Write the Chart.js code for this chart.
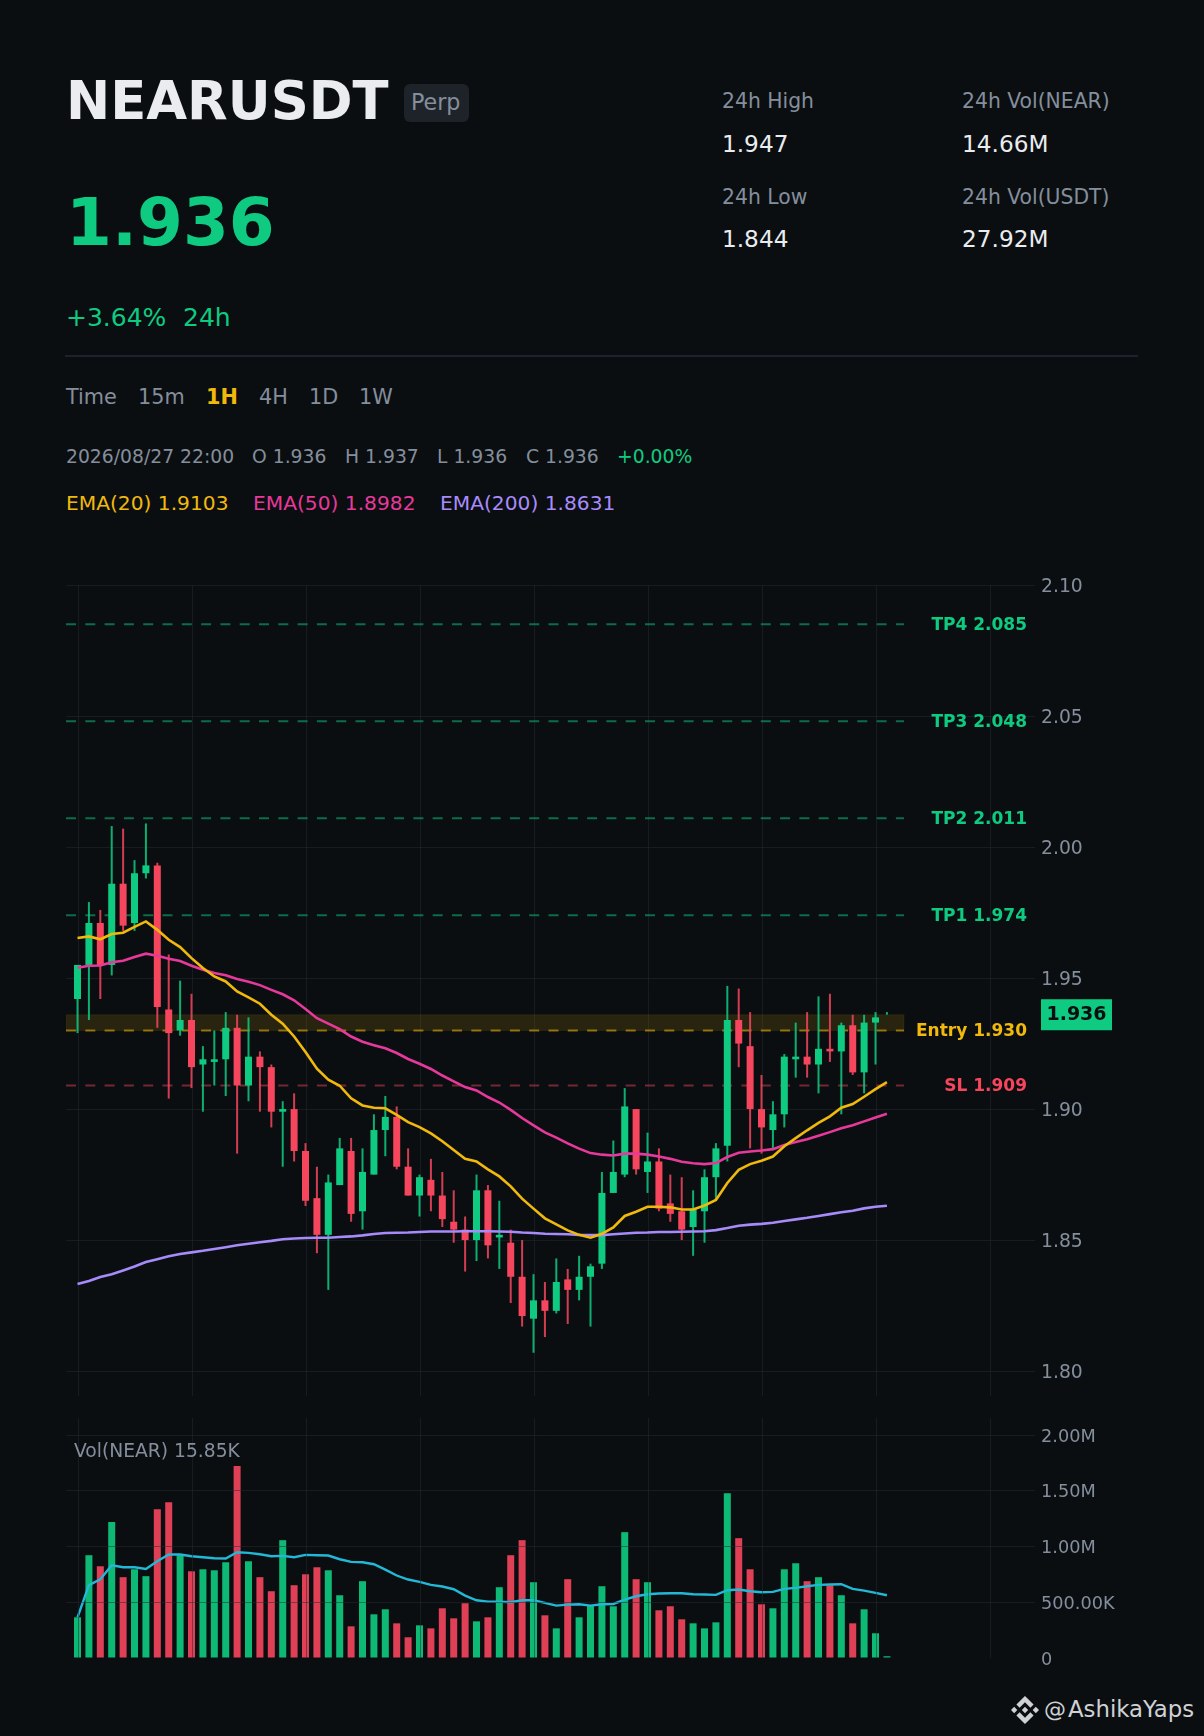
<!DOCTYPE html>
<html lang="en">
<head>
    <meta charset="UTF-8">
    <title>NEARUSDT Perp</title>
    <script src="https://cdn.jsdelivr.net/npm/chart.js"></script>
    <style>
        html, body { margin: 0; padding: 0; background: #0b0e11; }
        body { position: relative; width: 1204px; height: 1736px; overflow: hidden; font-family: 'DejaVu Sans', sans-serif; }
        .t { position: absolute; white-space: nowrap; transform: translateY(-50%); line-height: 1.2; color: #848e9c; }
        .stat-label { font-size: 20.35px; }
        .stat-value { font-size: 23.2px; color: #eaecef; }
        .tf { font-size: 20.8px; top: 397px; }
        .ohlc { font-size: 18.75px; top: 457px; }
        .ema { font-size: 20.2px; top: 503px; }
        #badge { position: absolute; left: 404px; top: 84px; width: 65px; height: 38px; background: #1e2329; border-radius: 6px; }
        #divider { position: absolute; left: 65px; top: 355px; width: 1073px; height: 2px; background: #1e2230; }
        canvas { position: absolute; display: block; }
        #priceChart { left: 66px; top: 565px; }
        #volChart { left: 66px; top: 1398px; }
        #logo { position: absolute; left: 1011px; top: 1696px; width: 28px; height: 28px; }
    </style>
</head>
<body>
    <div class="t" style="left:66px;top:101px;font-size:52.8px;font-weight:bold;color:#eaecef;">NEARUSDT</div>
    <div id="badge"></div>
    <div class="t" style="left:411px;top:102px;font-size:22.2px;">Perp</div>

    <div class="t" style="left:66px;top:223px;font-size:66px;font-weight:bold;color:#0ecb81;">1.936</div>
    <div class="t" style="left:66px;top:317.5px;font-size:25px;color:#0ecb81;">+3.64%</div>
    <div class="t" style="left:183px;top:317.5px;font-size:25px;color:#0ecb81;">24h</div>

    <div class="t stat-label" style="left:722px;top:101px;">24h High</div>
    <div class="t stat-value" style="left:722px;top:144px;">1.947</div>
    <div class="t stat-label" style="left:722px;top:197px;">24h Low</div>
    <div class="t stat-value" style="left:722px;top:239px;">1.844</div>
    <div class="t stat-label" style="left:962px;top:101px;">24h Vol(NEAR)</div>
    <div class="t stat-value" style="left:962px;top:144px;">14.66M</div>
    <div class="t stat-label" style="left:962px;top:197px;">24h Vol(USDT)</div>
    <div class="t stat-value" style="left:962px;top:239px;">27.92M</div>

    <div id="divider"></div>

    <div class="t tf" style="left:66px;">Time</div>
    <div class="t tf" style="left:138px;">15m</div>
    <div class="t tf" style="left:206px;font-weight:bold;color:#f0b90b;">1H</div>
    <div class="t tf" style="left:259px;">4H</div>
    <div class="t tf" style="left:309px;">1D</div>
    <div class="t tf" style="left:359px;">1W</div>

    <div class="t ohlc" style="left:66px;">2026/08/27 22:00</div>
    <div class="t ohlc" style="left:252px;">O 1.936</div>
    <div class="t ohlc" style="left:345px;">H 1.937</div>
    <div class="t ohlc" style="left:437px;">L 1.936</div>
    <div class="t ohlc" style="left:526px;">C 1.936</div>
    <div class="t ohlc" style="left:617px;color:#0ecb81;">+0.00%</div>

    <div class="t ema" style="left:66px;color:#f0b90b;">EMA(20) 1.9103</div>
    <div class="t ema" style="left:253px;color:#e6399b;">EMA(50) 1.8982</div>
    <div class="t ema" style="left:440px;color:#a78bfa;">EMA(200) 1.8631</div>

    <canvas id="priceChart" width="1138" height="851"></canvas>
    <canvas id="volChart" width="1138" height="280"></canvas>

    <div class="t" style="left:74px;top:1451px;font-size:18.7px;">Vol(NEAR) 15.85K</div>

    <svg id="logo" viewBox="0 0 24 24"><path fill="#cfd1d4" d="M16.624 13.9202l2.7175 2.7154-7.353 7.353-7.353-7.352 2.7175-2.7164 4.6355 4.6595 4.6356-4.6595zm4.6366-4.6366L24 12l-2.7154 2.7164L18.5682 12l2.6924-2.7164zm-9.272.001l2.7163 2.6914-2.7164 2.7174v-.001L9.2721 12l2.7164-2.7154zm-9.2722-.001L5.4088 12l-2.6914 2.6924L0 12l2.7164-2.7164zM11.9885.0115l7.353 7.329-2.7174 2.7154-4.6356-4.6356-4.6355 4.6595-2.7174-2.7154 7.353-7.353z"/></svg>
    <div class="t" style="left:1044px;top:1710px;font-size:22px;color:#cfd1d4;">@</div>
    <div class="t" style="left:1068px;top:1710px;font-size:22.8px;color:#cfd1d4;">AshikaYaps</div>

    <script>
        // candles
        const opens = [1.942,1.955,1.971,1.955,1.986,1.971,1.990,1.993,1.938,1.930,1.934,1.917,1.918,1.919,1.931,1.909,1.920,1.916,1.899,1.900,1.884,1.866,1.852,1.871,1.884,1.861,1.875,1.892,1.897,1.878,1.867,1.873,1.867,1.857,1.854,1.850,1.869,1.851,1.849,1.836,1.820,1.827,1.823,1.835,1.831,1.836,1.841,1.868,1.875,1.900,1.876,1.880,1.864,1.861,1.855,1.861,1.874,1.886,1.934,1.924,1.900,1.892,1.898,1.919,1.920,1.917,1.923,1.922,1.932,1.914,1.933,1.936];
        const highs = [1.955,1.979,1.976,2.008,2.007,1.995,2.009,1.994,1.959,1.949,1.944,1.924,1.930,1.937,1.936,1.935,1.922,1.917,1.903,1.906,1.887,1.878,1.875,1.889,1.889,1.885,1.898,1.905,1.901,1.885,1.875,1.881,1.876,1.869,1.859,1.875,1.871,1.865,1.854,1.850,1.837,1.834,1.843,1.839,1.844,1.841,1.876,1.888,1.908,1.900,1.891,1.885,1.875,1.874,1.869,1.877,1.887,1.947,1.946,1.937,1.913,1.903,1.921,1.933,1.937,1.943,1.944,1.933,1.936,1.936,1.937,1.937];
        const lows = [1.929,1.934,1.942,1.951,1.968,1.968,1.988,1.931,1.904,1.928,1.908,1.899,1.909,1.905,1.883,1.903,1.899,1.893,1.878,1.880,1.863,1.845,1.831,1.871,1.857,1.854,1.875,1.882,1.877,1.867,1.859,1.861,1.855,1.849,1.838,1.842,1.843,1.839,1.826,1.817,1.807,1.813,1.822,1.818,1.827,1.817,1.839,1.868,1.874,1.875,1.868,1.861,1.857,1.850,1.844,1.849,1.865,1.880,1.916,1.885,1.883,1.885,1.893,1.912,1.912,1.906,1.918,1.898,1.913,1.906,1.917,1.936];
        const closes = [1.955,1.971,1.955,1.986,1.970,1.990,1.993,1.939,1.929,1.934,1.916,1.919,1.919,1.931,1.909,1.920,1.916,1.899,1.900,1.884,1.865,1.852,1.872,1.885,1.860,1.876,1.892,1.897,1.878,1.867,1.874,1.867,1.858,1.854,1.850,1.869,1.848,1.852,1.836,1.821,1.827,1.823,1.834,1.831,1.836,1.840,1.868,1.876,1.901,1.877,1.880,1.862,1.860,1.854,1.862,1.874,1.885,1.934,1.925,1.900,1.893,1.898,1.920,1.920,1.917,1.923,1.922,1.932,1.914,1.933,1.935,1.936];

        const ema20 = [1.9653,1.9659,1.9648,1.9668,1.9673,1.9695,1.9716,1.9684,1.9646,1.9618,1.9576,1.9538,1.9506,1.9487,1.9449,1.9426,1.9402,1.9360,1.9326,1.9277,1.9218,1.9154,1.9112,1.9089,1.9041,1.9014,1.9005,1.9003,1.8978,1.8950,1.8931,1.8907,1.8877,1.8844,1.8810,1.8800,1.8770,1.8743,1.8705,1.8658,1.8620,1.8583,1.8560,1.8537,1.8520,1.8509,1.8524,1.8548,1.8592,1.8608,1.8627,1.8627,1.8625,1.8617,1.8617,1.8632,1.8653,1.8718,1.8768,1.8790,1.8803,1.8819,1.8858,1.8889,1.8919,1.8947,1.8972,1.9005,1.9019,1.9047,1.9076,1.9103];
        const ema50 = [1.9539,1.9547,1.9548,1.9560,1.9566,1.9580,1.9593,1.9585,1.9574,1.9565,1.9547,1.9532,1.9519,1.9511,1.9496,1.9486,1.9473,1.9455,1.9438,1.9415,1.9382,1.9347,1.9326,1.9305,1.9277,1.9257,1.9244,1.9232,1.9214,1.9191,1.9173,1.9153,1.9128,1.9106,1.9084,1.9071,1.9046,1.9025,1.8997,1.8966,1.8938,1.8911,1.8891,1.8869,1.8849,1.8832,1.8826,1.8823,1.8830,1.8830,1.8826,1.8819,1.8810,1.8799,1.8793,1.8790,1.8794,1.8817,1.8833,1.8838,1.8842,1.8847,1.8863,1.8874,1.8885,1.8898,1.8912,1.8927,1.8938,1.8953,1.8968,1.8982];
        const ema200 = [1.8332,1.8344,1.8359,1.8370,1.8384,1.8399,1.8416,1.8427,1.8438,1.8447,1.8453,1.8459,1.8466,1.8473,1.8480,1.8486,1.8492,1.8497,1.8503,1.8506,1.8508,1.8509,1.8509,1.8512,1.8514,1.8518,1.8523,1.8527,1.8528,1.8529,1.8531,1.8533,1.8533,1.8533,1.8534,1.8534,1.8534,1.8533,1.8532,1.8529,1.8527,1.8524,1.8523,1.8522,1.8520,1.8519,1.8519,1.8522,1.8525,1.8528,1.8529,1.8531,1.8531,1.8532,1.8533,1.8534,1.8538,1.8546,1.8555,1.8559,1.8562,1.8566,1.8573,1.8579,1.8585,1.8592,1.8599,1.8606,1.8612,1.8621,1.8627,1.8631];

        // volume in thousands
        const volumes = [365,922,823,1219,725,796,734,1335,1398,922,778,796,787,859,1722,868,725,599,1057,653,751,814,787,563,284,689,392,437,311,186,293,266,446,356,491,329,365,635,922,1057,680,383,266,707,365,473,644,464,1129,707,680,428,464,347,311,266,320,1479,1075,796,482,446,796,850,689,725,653,563,311,437,222,15.85];
        const volumeMa = [365,653,707,832,814,814,799,868,928,928,913,904,895,892,949,943,931,913,916,904,925,922,919,886,862,859,841,793,740,704,683,656,641,617,560,518,506,506,500,518,518,494,470,479,482,470,482,485,524,554,572,578,581,581,572,569,566,608,614,599,590,593,620,629,644,656,659,662,620,605,584,563];

        const levelNames = ['TP4','TP3','TP2','TP1','Entry','SL'];
        const levelValues = [2.085,2.048,2.011,1.974,1.930,1.909];
        const levelColors = ['#0ecb81','#0ecb81','#0ecb81','#0ecb81','#f0b90b','#f6465d'];
        const levelLineColors = ['rgba(14,203,129,.5)','rgba(14,203,129,.5)','rgba(14,203,129,.5)','rgba(14,203,129,.5)','rgba(240,185,11,.55)','rgba(246,70,93,.45)'];

        const lastPrice = 1.936;
        const entryZone = [1.930, 1.936];
        const priceTicks = [1.80,1.85,1.90,1.95,2.00,2.05,2.10];
        const volumeTicks = [0,500000,1000000,1500000,2000000];
        const timeTicks = [0,10,20,30,40,50,60,70,80];

        const GREEN = '#0ecb81', RED = '#f6465d';
        const GRID = 'rgba(36,41,49,.5)';
        const FONT = "'DejaVu Sans', sans-serif";
        // grid lines sit a hair right of the candles in the picture
        const xMin = -1.01, xMax = 83.99, levelEnd = 72.5, gridShift = 0.07;

        Chart.defaults.font.family = FONT;
        Chart.defaults.animation = false;

        const indexes = closes.map((c, i) => i);
        const isUp = i => closes[i] >= opens[i];

        function xAxis() {
            return {
                type: 'linear', min: xMin, max: xMax, offset: false,
                afterBuildTicks: s => { s.ticks = timeTicks.map(v => ({ value: v + gridShift })); },
                ticks: { display: false },
                border: { display: false },
                grid: { color: GRID, drawTicks: false, offset: false }
            };
        }

        function emaLine(values, color) {
            return {
                type: 'line', data: values.map((v, i) => ({ x: i, y: v })),
                borderColor: color, borderWidth: 2.6, pointRadius: 0, tension: 0, order: 1
            };
        }

        // entry band under the candles, text labels and last price tag on top
        const overlay = {
            id: 'overlay',
            beforeDatasetsDraw(chart) {
                const { ctx, scales: { x, y } } = chart;
                const left = x.left, right = x.getPixelForValue(levelEnd);
                const top = y.getPixelForValue(entryZone[1]), bottom = y.getPixelForValue(entryZone[0]);
                ctx.save();
                ctx.fillStyle = 'rgba(240,185,11,.13)';
                ctx.fillRect(left, top, right - left, bottom - top);
                ctx.strokeStyle = 'rgba(240,185,11,.08)';
                ctx.strokeRect(left, top, right - left, bottom - top);
                ctx.restore();
            },
            afterDatasetsDraw(chart) {
                const { ctx, scales: { y } } = chart;
                ctx.save();
                ctx.textBaseline = 'middle';
                ctx.textAlign = 'right';
                ctx.font = 'bold 17px ' + FONT;
                levelValues.forEach((v, i) => {
                    ctx.fillStyle = levelColors[i];
                    ctx.fillText(levelNames[i] + ' ' + v.toFixed(3), 961, y.getPixelForValue(v) + 1);
                });
                const py = y.getPixelForValue(lastPrice);
                ctx.fillStyle = GREEN;
                ctx.fillRect(975, py - 15.5, 71, 31);
                ctx.fillStyle = '#0b0e11';
                ctx.textAlign = 'center';
                ctx.font = 'bold 19px ' + FONT;
                ctx.fillText(lastPrice.toFixed(3), 1010.5, py);
                ctx.restore();
            }
        };

        new Chart(document.getElementById('priceChart'), {
            data: {
                datasets: [
                    emaLine(ema20, '#f0b90b'),
                    emaLine(ema50, '#e6399b'),
                    emaLine(ema200, '#a78bfa'),
                    {
                        type: 'bar', grouped: false, order: 2, barThickness: 7, inflateAmount: 0,
                        data: indexes.map(i => ({ x: i, y: [opens[i], closes[i]] })),
                        backgroundColor: indexes.map(i => isUp(i) ? GREEN : RED)
                    },
                    {
                        type: 'bar', grouped: false, order: 3, barThickness: 2, inflateAmount: 0,
                        data: indexes.map(i => ({ x: i, y: [lows[i], highs[i]] })),
                        backgroundColor: indexes.map(i => isUp(i) ? 'rgba(14,203,129,.85)' : 'rgba(246,70,93,.85)')
                    },
                    ...levelValues.map((v, i) => ({
                        type: 'line', order: 4, pointRadius: 0, borderWidth: 2, borderDash: [10, 9.3],
                        borderColor: levelLineColors[i],
                        data: [{ x: xMin, y: v }, { x: levelEnd, y: v }]
                    }))
                ]
            },
            options: {
                responsive: false,
                layout: { padding: { top: 20, bottom: 20, left: 0, right: 0 } },
                plugins: { legend: { display: false }, tooltip: { enabled: false } },
                scales: {
                    x: xAxis(),
                    y: {
                        position: 'right', min: 1.7905, max: 2.10,
                        afterBuildTicks: s => { s.ticks = priceTicks.map(v => ({ value: v })); },
                        afterFit: s => { s.width = 169; },
                        ticks: { color: '#848e9c', font: { size: 18.8 }, padding: 6, labelOffset: 2.5, autoSkip: false, callback: v => v.toFixed(2) },
                        border: { display: false },
                        grid: { color: GRID, drawTicks: false }
                    }
                }
            },
            plugins: [overlay]
        });

        const volLabel = v => v === 0 ? '0' : v >= 1000000 ? (v / 1000000).toFixed(2) + 'M' : (v / 1000).toFixed(2) + 'K';

        new Chart(document.getElementById('volChart'), {
            data: {
                datasets: [
                    {
                        type: 'line', order: 1, pointRadius: 0, borderWidth: 2.4, tension: 0, borderColor: '#22b8d6',
                        data: volumeMa.map((v, i) => ({ x: i, y: v * 1000 }))
                    },
                    {
                        type: 'bar', order: 2, grouped: false, barThickness: 7, inflateAmount: 0,
                        data: volumes.map((v, i) => ({ x: i, y: v * 1000 })),
                        backgroundColor: indexes.map(i => isUp(i) ? 'rgba(14,203,129,.9)' : 'rgba(246,70,93,.9)')
                    }
                ]
            },
            options: {
                responsive: false,
                layout: { padding: { top: 20, bottom: 20, left: 0, right: 0 } },
                plugins: { legend: { display: false }, tooltip: { enabled: false } },
                scales: {
                    x: (() => { const a = xAxis(); a.grid.z = 1; return a; })(),
                    y: {
                        position: 'right', min: 0, max: 2153000,
                        afterBuildTicks: s => { s.ticks = volumeTicks.map(v => ({ value: v })); },
                        afterFit: s => { s.width = 169; },
                        ticks: { color: '#848e9c', font: { size: 17.7 }, padding: 6, labelOffset: 2, autoSkip: false, callback: volLabel },
                        border: { display: false },
                        grid: { z: 1, drawTicks: false, color: c => c.tick && c.tick.value === 0 ? 'transparent' : GRID }
                    }
                }
            }
        });
    </script>
</body>
</html>
